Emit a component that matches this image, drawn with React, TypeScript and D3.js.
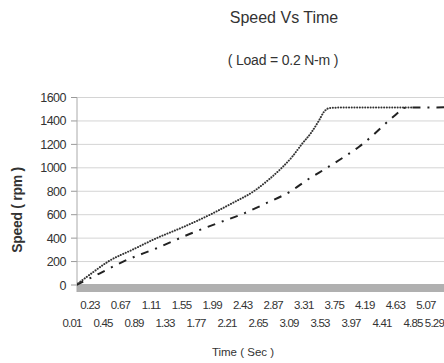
import React from "react";
import * as d3 from "d3";

const yTicks = [0, 200, 400, 600, 800, 1000, 1200, 1400, 1600];
const topLabels = ["0.23", "0.67", "1.11", "1.55", "1.99", "2.43", "2.87", "3.31", "3.75", "4.19", "4.63", "5.07"];
const bottomLabels = ["0.01", "0.45", "0.89", "1.33", "1.77", "2.21", "2.65", "3.09", "3.53", "3.97", "4.41", "4.85", "5.29"];

const dottedTime = [0.01, 0.25, 0.48, 0.85, 1.19, 1.6, 1.97, 2.3, 2.61, 2.83, 3.02, 3.18, 3.31, 3.45, 3.56, 3.64, 3.72, 3.85, 4.95];
const dottedSpeed = [0, 105, 200, 305, 400, 500, 600, 700, 800, 900, 1000, 1100, 1200, 1300, 1400, 1480, 1510, 1514, 1515];

const dashTime = [0.01, 0.36, 0.7, 1.19, 1.68, 2.13, 2.42, 2.8, 3.15, 3.4, 3.68, 3.95, 4.15, 4.33, 4.6, 4.74, 4.8, 4.9, 5.5];
const dashSpeed = [0, 100, 200, 314, 437, 538, 600, 700, 800, 900, 1000, 1100, 1180, 1266, 1411, 1480, 1510, 1514, 1516];

const W = 444;
const H = 363;
const left = 77;
const rightEdge = 444;
const top = 97.5;
const bottom = 285;

export default function App() {
  const x = d3.scaleLinear().domain([0.01, 5.29]).range([76, 437]);
  const xTop = d3.scaleLinear().domain([0.23, 5.07]).range([90, 426]);
  const xBot = d3.scaleLinear().domain([0.01, 4.85]).range([72, 413]);
  const y = d3.scaleLinear().domain([0, 1600]).range([bottom, top]);
  const line = d3
    .line<[number, number]>()
    .x((d) => x(d[0]))
    .y((d) => y(d[1]))
    .curve(d3.curveMonotoneX);
  const dotted = dottedTime.map((t, i) => [t, dottedSpeed[i]] as [number, number]);
  const dash = dashTime.map((t, i) => [t, dashSpeed[i]] as [number, number]);
  const font = "'Liberation Sans', Arial, sans-serif";
  const topVals = topLabels.map(Number);
  const bottomVals = bottomLabels.map(Number);

  return (
    <svg width={W} height={H} style={{ position: "absolute", left: 0, top: 0, background: "#fff" }} fontFamily={font}>
      <defs>
        <clipPath id="plot">
          <rect x={left} y={top - 10} width={rightEdge - left} height={bottom - top + 12} />
        </clipPath>
      </defs>
      <rect x={0} y={0} width={W} height={H} fill="#fff" />
      <text x={284} y={23} textAnchor="middle" fontSize={16} fill="#333">Speed Vs Time</text>
      <text x={283} y={65} textAnchor="middle" fontSize={14} fill="#333" letterSpacing={-0.2}>( Load = 0.2 N-m )</text>

      {yTicks.map((v) => (
        <g key={v}>
          <line x1={left} x2={rightEdge} y1={y(v)} y2={y(v)} stroke="#d4d4d4" strokeWidth={1} />
          <line x1={left - 6} x2={left} y1={y(v)} y2={y(v)} stroke="#999" strokeWidth={1} />
          <text x={66} y={y(v) + 4.5} textAnchor="end" fontSize={12.5} fill="#333" letterSpacing={-0.5}>{v}</text>
        </g>
      ))}
      <rect x={left} y={bottom - 1} width={rightEdge - left} height={8} fill="#b0b0b0" />
      <line x1={left} x2={left} y1={top} y2={bottom + 7} stroke="#aaa" strokeWidth={1} />

      <g clipPath="url(#plot)">
        <path d={line(dash) || ""} fill="none" stroke="#222" strokeWidth={2} strokeDasharray="8,7,2,7" />
        <path d={line(dotted) || ""} fill="none" stroke="#333" strokeWidth={2} strokeDasharray="0.1,2.6" strokeLinecap="round" />
      </g>

      {topLabels.map((l, i) => (
        <text key={"t" + l} x={xTop(topVals[i])} y={309} textAnchor="middle" fontSize={11.5} fill="#333" letterSpacing={-0.7}>{l}</text>
      ))}
      {bottomLabels.map((l, i) => {
        const last = i === bottomLabels.length - 1;
        return (
          <text key={"b" + l} x={last ? 444 : xBot(bottomVals[i])} y={326.5} textAnchor={last ? "end" : "middle"} fontSize={11.5} fill="#333" letterSpacing={-0.8}>{l}</text>
        );
      })}
      <text x={243} y={356} textAnchor="middle" fontSize={11.5} fill="#333">Time ( Sec )</text>
      <text transform={`translate(22,210) rotate(-90)`} textAnchor="middle" fontSize={14} fontWeight="bold" fill="#333" letterSpacing={-0.3}>Speed ( rpm )</text>
    </svg>
  );
}
